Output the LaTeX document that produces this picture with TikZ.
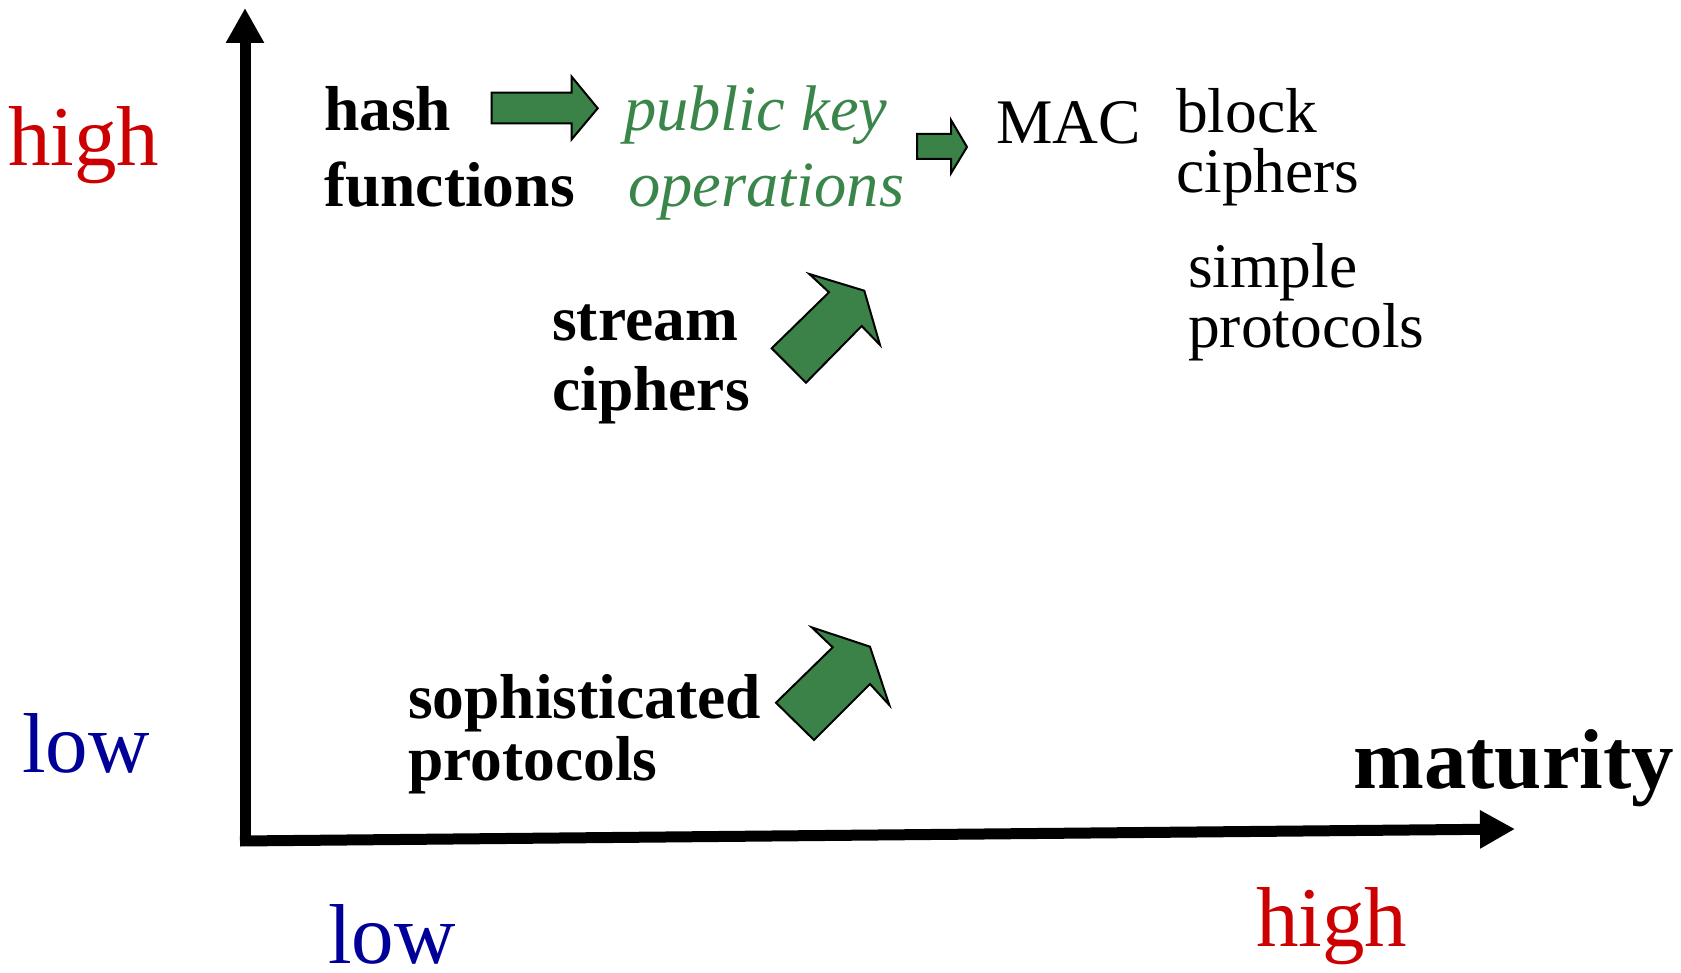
\documentclass[tikz,border=0pt]{standalone}
\usepackage{fontspec}
\setmainfont{Liberation Serif}
\usetikzlibrary{arrows.meta}
\definecolor{axred}{RGB}{204,0,0}
\definecolor{axblue}{RGB}{0,0,153}
\definecolor{pkgreen}{RGB}{58,133,74}
\definecolor{arrgreen}{RGB}{59,130,73}
\begin{document}
\begin{tikzpicture}[x=1pt,y=-1pt,
  big/.style={font=\fontsize{85}{96}\selectfont, inner sep=0pt, anchor=base west},
  lbl/.style={font=\fontsize{63.5}{75}\selectfont, inner sep=0pt, anchor=base west},
  lblb/.style={lbl, font=\fontsize{63.5}{75}\selectfont\bfseries},
  lbli/.style={lbl, font=\fontsize{64.5}{75}\selectfont\itshape, text=pkgreen},
  blockarrow/.style={draw=black, line width=2pt, fill=arrgreen, line join=miter},
  axisline/.style={line width=11pt, -{Triangle[length=35pt,width=36pt]}}]
\useasboundingbox (0,0) rectangle (1681,973);
% axes
\coordinate (O) at (245,846);
\coordinate (Ytip) at (245,8);
\coordinate (Xstart) at (240,841);
\coordinate (Xtip) at (1515,829);
\draw[axisline] (O) -- (Ytip);
\draw[axisline] (Xstart) -- (Xtip);
% axis labels
\node[big, text=axred] (highL) at (8,166) {high};
\node[big, text=axblue] (lowL) at (22,772) {low};
\node[big, text=axblue, text depth=0pt] (lowB) at (328,963) {low};
\node[big, text=axred] (highB) at (1256,946) {high};
\node[big, font=\fontsize{85}{96}\selectfont\bfseries] (mat) at (1353,788) {maturity};
% items
\node[lblb] (hash1) at (324,131) {hash};
\node[lblb] (hash2) at (324,207) {functions};
\node[lbli] (pk1) at (624,131) {public key};
\node[lbli] (pk2) at (628,207) {operations};
\node[lbl] (mac) at (996,144) {MAC};
\node[lbl] (block1) at (1176,133) {block};
\node[lbl] (block2) at (1176,193) {ciphers};
\node[lbl] (simple1) at (1188,288) {simple};
\node[lbl] (simple2) at (1188,348) {protocols};
\node[lblb] (stream1) at (552,341) {stream};
\node[lblb] (stream2) at (552,410) {ciphers};
\node[lblb] (soph1) at (408,718) {sophisticated};
\node[lblb] (soph2) at (408,780) {protocols};
% green block arrows
\draw[blockarrow] (491.7,92.7) -- (571.7,92.7) -- (571.7,76.7) -- (597.7,108.3)
  -- (571.7,139.3) -- (571.7,123.3) -- (491.7,123.3) -- cycle;
\draw[blockarrow] (917,134) -- (951,134) -- (951,120) -- (967,147)
  -- (951,173.3) -- (951,159) -- (917,159) -- cycle;
\draw[blockarrow] (809.3,274) -- (864.3,290.7) -- (880,345) -- (861.7,326)
  -- (806,382.7) -- (771.7,348.3) -- (829,292.3) -- cycle;
\draw[blockarrow] (811.7,627.3) -- (870,646.7) -- (889.3,705) -- (870,684)
  -- (814,740) -- (776,702.7) -- (832.7,647.3) -- cycle;
\end{tikzpicture}
\end{document}
